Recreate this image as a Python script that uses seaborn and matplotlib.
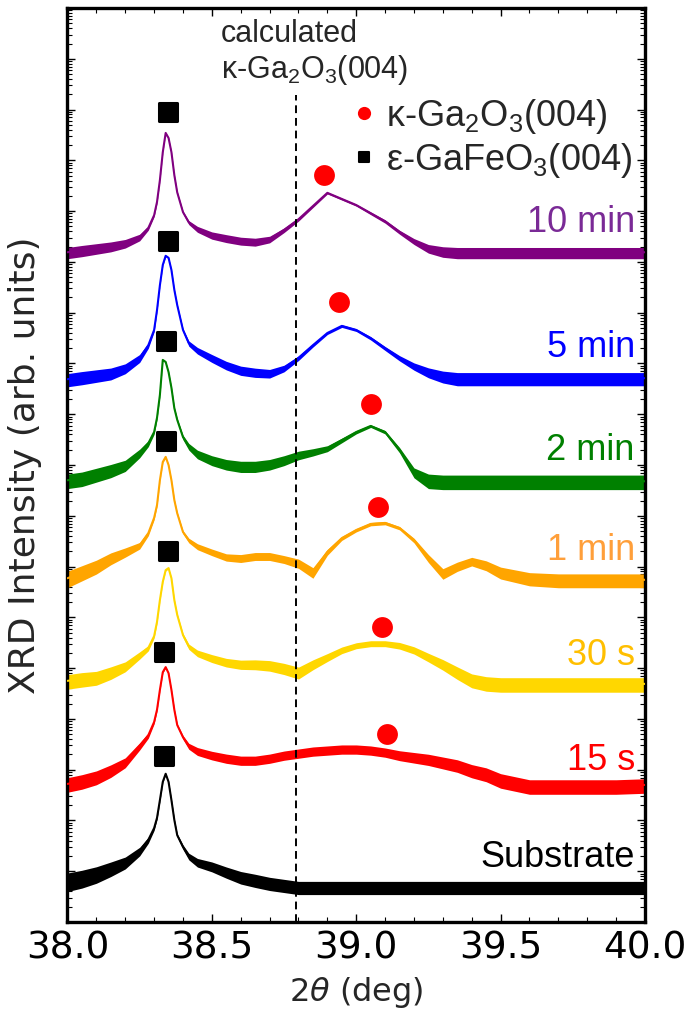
import numpy as np
import pandas as pd
import matplotlib
matplotlib.use("Agg")
import matplotlib.pyplot as plt
import seaborn as sns
from matplotlib.lines import Line2D
from matplotlib.markers import MarkerStyle
from matplotlib.ticker import LogLocator, MultipleLocator, NullFormatter, FormatStrFormatter

# ---------------- data (log10 of stacked intensity, arb. units) ----------------
two_theta = [38.00, 38.05, 38.10, 38.15, 38.20, 38.25, 38.28, 38.30, 38.31, 38.32,
             38.33, 38.34, 38.35, 38.36, 38.37, 38.38, 38.40, 38.42, 38.45, 38.50,
             38.55, 38.60, 38.65, 38.70, 38.75, 38.80, 38.85, 38.90, 38.95, 39.00,
             39.05, 39.10, 39.15, 39.20, 39.25, 39.30, 39.35, 39.40, 39.45, 39.50,
             39.60, 39.70, 39.80, 39.90, 40.00]

samples = ["10 min", "5 min", "2 min", "1 min", "30 s", "15 s", "Substrate"]

logi_10min = [13.19, 13.23, 13.27, 13.31, 13.37, 13.49, 13.67, 13.92, 14.18, 14.61,
              15.16, 15.54, 15.44, 15.16, 14.71, 14.37, 13.98, 13.78, 13.65, 13.53,
              13.47, 13.42, 13.40, 13.45, 13.63, 13.84, 14.10, 14.36, 14.24, 14.12,
              13.96, 13.80, 13.59, 13.41, 13.27, 13.21, 13.19, 13.19, 13.19, 13.19,
              13.19, 13.19, 13.19, 13.19, 13.19]
logi_5min = [10.69, 10.73, 10.77, 10.81, 10.91, 11.11, 11.36, 11.66, 12.05, 12.54,
             12.94, 13.12, 13.08, 12.84, 12.45, 12.15, 11.66, 11.40, 11.26, 11.11,
             10.97, 10.87, 10.83, 10.81, 10.91, 11.11, 11.36, 11.60, 11.74, 11.66,
             11.50, 11.30, 11.11, 10.95, 10.83, 10.75, 10.71, 10.71, 10.71, 10.71,
             10.71, 10.71, 10.71, 10.71, 10.71]
logi_2min = [8.70, 8.74, 8.82, 8.90, 9.00, 9.24, 9.43, 9.65, 9.93, 10.38,
             11.07, 11.03, 10.83, 10.52, 10.12, 9.89, 9.55, 9.37, 9.22, 9.10,
             9.02, 8.98, 8.98, 9.02, 9.10, 9.20, 9.26, 9.33, 9.49, 9.65,
             9.77, 9.65, 9.30, 8.86, 8.70, 8.68, 8.68, 8.68, 8.68, 8.68,
             8.68, 8.68, 8.68, 8.68, 8.68]
logi_1min = [6.77, 6.89, 7.01, 7.17, 7.29, 7.42, 7.66, 7.96, 8.21, 8.70,
             9.06, 9.16, 9.00, 8.70, 8.31, 8.05, 7.68, 7.52, 7.40, 7.29,
             7.19, 7.17, 7.21, 7.21, 7.15, 7.07, 6.89, 7.29, 7.56, 7.72,
             7.84, 7.86, 7.76, 7.52, 7.17, 6.87, 7.01, 7.11, 7.03, 6.89,
             6.77, 6.74, 6.74, 6.74, 6.74]
logi_30s = [4.75, 4.79, 4.82, 4.92, 5.04, 5.26, 5.40, 5.63, 5.91, 6.34,
            6.70, 6.93, 6.97, 6.77, 6.34, 6.05, 5.65, 5.43, 5.30, 5.20,
            5.12, 5.08, 5.08, 5.06, 5.00, 4.92, 5.08, 5.22, 5.36, 5.45,
            5.49, 5.49, 5.45, 5.36, 5.22, 5.08, 4.92, 4.77, 4.71, 4.69,
            4.69, 4.69, 4.69, 4.69, 4.69]
logi_15s = [2.72, 2.78, 2.86, 2.99, 3.15, 3.47, 3.68, 3.94, 4.18, 4.57,
            4.92, 5.02, 4.90, 4.57, 4.18, 3.88, 3.64, 3.47, 3.37, 3.29,
            3.23, 3.19, 3.19, 3.23, 3.29, 3.33, 3.37, 3.39, 3.41, 3.41,
            3.39, 3.35, 3.29, 3.25, 3.21, 3.15, 3.09, 2.99, 2.92, 2.80,
            2.68, 2.68, 2.68, 2.68, 2.70]
logi_sub = [0.81, 0.87, 0.95, 1.06, 1.18, 1.40, 1.62, 1.85, 2.05, 2.40,
            2.76, 2.92, 2.76, 2.40, 2.01, 1.71, 1.48, 1.30, 1.18, 1.10,
            0.99, 0.89, 0.83, 0.77, 0.73, 0.69, 0.69, 0.69, 0.69, 0.69,
            0.69, 0.69, 0.69, 0.69, 0.69, 0.69, 0.69, 0.69, 0.69, 0.69,
            0.69, 0.69, 0.69, 0.69, 0.69]

# half-width of the noise band (decades)
noise_10min = [0.17, 0.17, 0.16, 0.15, 0.13, 0.10, 0.06, 0.04, 0.03, 0.02,
               0.02, 0.02, 0.02, 0.02, 0.02, 0.03, 0.04, 0.06, 0.09, 0.11,
               0.12, 0.12, 0.12, 0.10, 0.07, 0.05, 0.04, 0.03, 0.03, 0.03,
               0.04, 0.05, 0.06, 0.09, 0.13, 0.16, 0.17, 0.17, 0.17, 0.17,
               0.17, 0.17, 0.17, 0.17, 0.17]
noise_5min = [0.20, 0.20, 0.19, 0.18, 0.15, 0.12, 0.08, 0.05, 0.03, 0.02,
              0.02, 0.02, 0.02, 0.02, 0.02, 0.03, 0.05, 0.08, 0.10, 0.12,
              0.13, 0.14, 0.14, 0.13, 0.10, 0.07, 0.05, 0.04, 0.04, 0.04,
              0.05, 0.06, 0.08, 0.11, 0.15, 0.18, 0.20, 0.20, 0.20, 0.20,
              0.20, 0.20, 0.20, 0.20, 0.20]
noise_2min = [0.22, 0.22, 0.21, 0.20, 0.17, 0.13, 0.09, 0.06, 0.04, 0.03,
              0.02, 0.02, 0.02, 0.03, 0.04, 0.05, 0.07, 0.10, 0.13, 0.15,
              0.16, 0.17, 0.17, 0.16, 0.15, 0.13, 0.11, 0.09, 0.07, 0.05,
              0.04, 0.05, 0.08, 0.15, 0.22, 0.22, 0.22, 0.22, 0.22, 0.22,
              0.22, 0.22, 0.22, 0.22, 0.22]
noise_1min = [0.25, 0.23, 0.21, 0.18, 0.14, 0.10, 0.07, 0.05, 0.03, 0.02,
              0.02, 0.02, 0.02, 0.02, 0.03, 0.04, 0.05, 0.07, 0.09, 0.10,
              0.11, 0.12, 0.12, 0.12, 0.12, 0.14, 0.16, 0.09, 0.06, 0.05,
              0.05, 0.05, 0.05, 0.07, 0.12, 0.16, 0.14, 0.13, 0.15, 0.18,
              0.20, 0.21, 0.21, 0.21, 0.21]
noise_30s = [0.22, 0.22, 0.21, 0.19, 0.15, 0.11, 0.08, 0.05, 0.03, 0.02,
             0.02, 0.02, 0.02, 0.02, 0.03, 0.04, 0.06, 0.08, 0.10, 0.12,
             0.13, 0.14, 0.15, 0.16, 0.17, 0.18, 0.15, 0.12, 0.10, 0.09,
             0.09, 0.09, 0.10, 0.11, 0.13, 0.16, 0.19, 0.21, 0.22, 0.22,
             0.22, 0.22, 0.22, 0.22, 0.22]
noise_15s = [0.22, 0.22, 0.21, 0.19, 0.15, 0.11, 0.08, 0.05, 0.03, 0.02,
             0.02, 0.02, 0.02, 0.02, 0.03, 0.04, 0.06, 0.09, 0.12, 0.13,
             0.14, 0.14, 0.14, 0.14, 0.14, 0.14, 0.14, 0.14, 0.14, 0.14,
             0.14, 0.14, 0.15, 0.16, 0.17, 0.18, 0.19, 0.20, 0.21, 0.22,
             0.22, 0.22, 0.22, 0.22, 0.22]
noise_sub = [0.28, 0.27, 0.25, 0.22, 0.18, 0.13, 0.09, 0.06, 0.04, 0.03,
             0.02, 0.02, 0.02, 0.03, 0.04, 0.05, 0.07, 0.10, 0.13, 0.15,
             0.17, 0.19, 0.20, 0.20, 0.20, 0.20, 0.20, 0.20, 0.20, 0.20,
             0.20, 0.20, 0.20, 0.20, 0.20, 0.20, 0.20, 0.20, 0.20, 0.20,
             0.20, 0.20, 0.20, 0.20, 0.20]

# peak markers: eps-GaFeO3(004) squares, kappa-Ga2O3(004) circles
square_x = [38.347, 38.347, 38.340, 38.340, 38.347, 38.334, 38.334]
square_logi = [15.95, 13.41, 11.44, 9.47, 7.31, 5.32, 3.27]
circle_x = [38.888, 38.940, 39.051, 39.075, 39.089, 39.106]
circle_logi = [14.71, 12.21, 10.20, 8.17, 5.81, 3.70]

calc_kappa_position = 38.79

curves = [logi_10min, logi_5min, logi_2min, logi_1min, logi_30s, logi_15s, logi_sub]
noises = [noise_10min, noise_5min, noise_2min, noise_1min, noise_30s, noise_15s, noise_sub]

# ---------------- styling ----------------
line_colors = ["#800080", "#0000FF", "#008000", "#FFA500", "#FFD700", "#FF0000", "#000000"]
label_colors = ["#7A2A96", "#0000FF", "#008000", "#FF9F3A", "#FFBF00", "#FF0000", "#000000"]
label_baseline = [13.59, 11.13, 9.10, 7.13, 5.06, 2.99, 1.08]

sns.set_theme(style="ticks")
plt.rcParams["font.family"] = ["DejaVu Sans"]
plt.rcParams["axes.linewidth"] = 2.4

ann_font = ["Liberation Sans", "DejaVu Sans"]

fig = plt.figure(figsize=(6.93, 10.14), dpi=100)
ax = fig.add_axes([0.0974, 0.0907, 0.8333, 0.9014])
ax.set_yscale("log")

rows = []
for name, vals in zip(samples, curves):
    for x, v in zip(two_theta, vals):
        rows.append({"two_theta": x, "intensity": 10.0 ** v, "sample": name})
df = pd.DataFrame(rows)

xs = np.array(two_theta)
for vals, nz, c in zip(curves, noises, line_colors):
    v = np.array(vals)
    n = np.array(nz) * 0.65
    ax.fill_between(xs, 10.0 ** (v - 1.15 * n), 10.0 ** (v + 0.85 * n),
                    color=c, lw=0, zorder=2)

palette = dict(zip(samples, line_colors))
sns.lineplot(data=df, x="two_theta", y="intensity", hue="sample", palette=palette,
             estimator=None, sort=False, legend=False, lw=1.5, ax=ax, zorder=3)

# markers
sq_marker = MarkerStyle("s", joinstyle="round")
ax.plot(square_x, [10.0 ** v for v in square_logi], ls="none", marker=sq_marker,
        ms=12.5, mfc="black", mec="black", mew=2.2, zorder=5)
ax.plot(circle_x, [10.0 ** v for v in circle_logi], ls="none", marker="o",
        ms=15, mfc="#FF0000", mec="#FF0000", mew=0, zorder=5)

# calculated position
ax.axvline(calc_kappa_position, ymin=0, ymax=0.905, color="black", lw=1.4,
           ls=(0, (4, 2.5)), zorder=4)
ax.text(38.532, 0.988, "calculated\n\u03ba-Ga$\\mathregular{_2}$O$\\mathregular{_3}$(004)",
        transform=ax.get_xaxis_transform(), ha="left", va="top", fontsize=22,
        family=ann_font, linespacing=1.15)

# curve labels
for name, c, yb in zip(samples, label_colors, label_baseline):
    ax.text(39.965, 10.0 ** yb, name, color=c, ha="right", va="baseline",
            fontsize=26, family=ann_font)

# legend
handles = [Line2D([], [], ls="none", marker="o", ms=9.5, mfc="#FF0000", mec="#FF0000", mew=0),
           Line2D([], [], ls="none", marker=MarkerStyle("s", joinstyle="round"), ms=7,
                  mfc="black", mec="black", mew=1.5)]
labels = ["\u03ba-Ga$\\mathregular{_2}$O$\\mathregular{_3}$(004)",
          "\u03b5-GaFeO$\\mathregular{_3}$(004)"]
leg = ax.legend(handles, labels, loc="upper left", bbox_to_anchor=(0.498, 0.903),
                frameon=False, borderpad=0, handlelength=0.5, handletextpad=0.35,
                labelspacing=0.15, borderaxespad=0,
                prop={"family": ann_font, "size": 26})

# axes
ax.set_xlim(38.0, 40.0)
ax.set_ylim(1.0, 1e18)
ax.xaxis.set_major_locator(MultipleLocator(0.5))
ax.xaxis.set_minor_locator(MultipleLocator(0.1))
ax.xaxis.set_major_formatter(FormatStrFormatter("%.1f"))
ax.yaxis.set_major_locator(LogLocator(base=10, numticks=40))
ax.yaxis.set_minor_locator(LogLocator(base=10, subs=np.arange(2, 10), numticks=400))
ax.yaxis.set_major_formatter(NullFormatter())
ax.yaxis.set_minor_formatter(NullFormatter())
ax.tick_params(which="both", direction="in", top=True, right=True, colors="black")
ax.tick_params(which="major", length=6, width=1.0, labelsize=27, pad=6)
ax.tick_params(which="minor", length=3.5, width=0.8)
for s in ax.spines.values():
    s.set_linewidth(2.4)
    s.set_color("black")

ax.set_xlabel("2$\\theta$ (deg)", fontsize=23, labelpad=6)
ax.set_ylabel("XRD Intensity (arb. units)", fontsize=26, labelpad=12)

fig.savefig("out.png", dpi=100)
